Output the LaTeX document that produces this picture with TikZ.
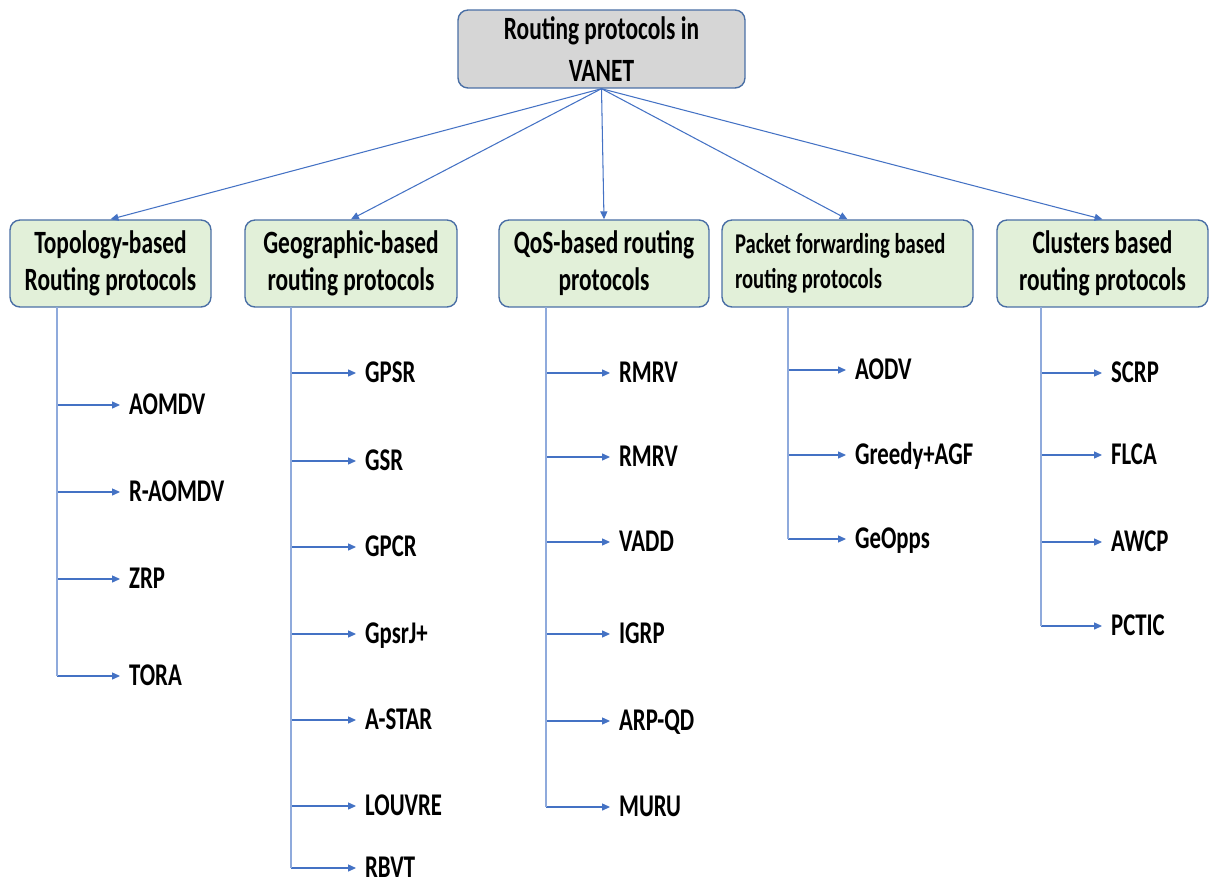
\documentclass[tikz,border=0pt]{standalone}
\usepackage{fontspec}
\setmainfont{Carlito}[FakeStretch=0.72]
\usetikzlibrary{arrows.meta}
\definecolor{boxline}{HTML}{4A6FA5}
\definecolor{catfill}{HTML}{E2F0D9}
\definecolor{rootfill}{HTML}{D6D6D6}
\definecolor{linkblue}{HTML}{4472C4}
\definecolor{trunkblue}{HTML}{8FAADC}

\begin{document}
\begin{tikzpicture}[x=0.02cm,y=-0.02cm,font=\bfseries\fontsize{18}{21}\selectfont,
  catbox/.style={draw=boxline,fill=catfill,rounded corners=0.2cm,line width=0.8pt,minimum height=1.74cm,align=center,inner sep=0pt,font=\bfseries\fontsize{18.5}{21}\selectfont},
  rootbox/.style={draw=boxline,fill=rootfill,rounded corners=0.2cm,line width=0.8pt,minimum width=5.74cm,minimum height=1.56cm,align=center,inner sep=0pt,font=\bfseries\fontsize{18.5}{24}\selectfont},
  leaf/.style={anchor=west,inner xsep=5pt,inner ysep=0pt,text height=11.6pt,text depth=1pt},
  link/.style={draw=linkblue,line width=0.6pt,-{Triangle[length=4.5pt,width=4pt]}},
  trunk/.style={draw=trunkblue,line width=0.6pt}]
\useasboundingbox (0,0) rectangle (1211,886);

% root and the five families
\node[rootbox] (root) at (601.5,49) {Routing protocols in\\VANET};
\node[catbox,minimum width=4.02cm] (topo) at (110.5,263.5) {Topology-based\\Routing protocols};
\node[catbox,minimum width=4.24cm] (geo) at (351,263.5) {Geographic-based\\routing protocols};
\node[catbox,minimum width=4.2cm] (qos) at (604,263.5) {QoS-based routing\\protocols};
\node[catbox,align=flush left,text width=4.5cm,inner xsep=0.26cm,font=\bfseries\fontsize{16.3}{20}\selectfont] (pkt) at (847.5,263.5) {Packet forwarding based\\routing protocols};
\node[catbox,minimum width=4.22cm] (clus) at (1102.5,263.5) {Clusters based\\routing protocols};
\foreach \c in {topo,geo,qos,pkt,clus} {
   \draw[link] (root.south) -- (\c.north);
}

% topology-based
\coordinate (topo-top) at (57,307);
\foreach \y/\1 [count=\i] in %
{405/AOMDV,492/R-AOMDV,579/ZRP,676/TORA} {
   \node[leaf] (topo-\i) at (120,\y) {\1};
   \draw[link] (topo-top |- topo-\i.west) -- (topo-\i.west);
}
\draw[trunk] (topo-top) -- (topo-top |- topo-4.west);

% geographic-based
\coordinate (geo-top) at (291,307);
\foreach \y/\1 [count=\i] in %
{373/GPSR,461/GSR,547/GPCR,634/GpsrJ+,720/A-STAR,806/LOUVRE,868/RBVT} {
   \node[leaf] (geo-\i) at (356,\y) {\1};
   \draw[link] (geo-top |- geo-\i.west) -- (geo-\i.west);
}
\draw[trunk] (geo-top) -- (geo-top |- geo-7.west);

% qos-based
\coordinate (qos-top) at (546,307);
\foreach \y/\1 [count=\i] in %
{373/RMRV,457/RMRV,542/VADD,634/IGRP,721/ARP-QD,807/MURU} {
   \node[leaf] (qos-\i) at (610,\y) {\1};
   \draw[link] (qos-top |- qos-\i.west) -- (qos-\i.west);
}
\draw[trunk] (qos-top) -- (qos-top |- qos-6.west);

% packet forwarding based
\coordinate (pkt-top) at (788,307);
\foreach \y/\1 [count=\i] in %
{370/AODV,455/Greedy+AGF,539/GeOpps} {
   \node[leaf] (pkt-\i) at (846,\y) {\1};
   \draw[link] (pkt-top |- pkt-\i.west) -- (pkt-\i.west);
}
\draw[trunk] (pkt-top) -- (pkt-top |- pkt-3.west);

% clusters based
\coordinate (clus-top) at (1041,307);
\foreach \y/\1 [count=\i] in %
{373/SCRP,455/FLCA,542/AWCP,626/PCTIC} {
   \node[leaf] (clus-\i) at (1102,\y) {\1};
   \draw[link] (clus-top |- clus-\i.west) -- (clus-\i.west);
}
\draw[trunk] (clus-top) -- (clus-top |- clus-4.west);
\end{tikzpicture}
\end{document}
